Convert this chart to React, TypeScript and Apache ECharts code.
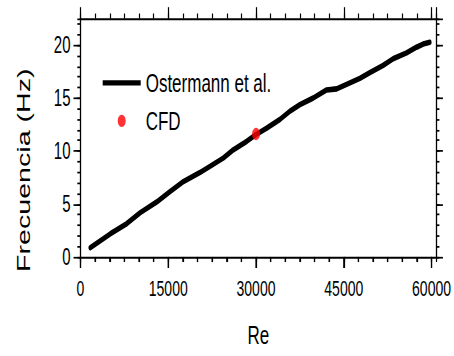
import React, { useEffect, useRef } from "react";
import * as echarts from "echarts";

// Ostermann et al. curve (Re, frequency Hz)
const reValues = [1660, 5070, 7920, 10190, 13040, 15320, 17590, 20440, 22710, 24420, 26120, 28410, 29950, 31830, 34100, 35810, 37510, 39780, 42070, 43780, 45480, 47750, 49460, 51730, 53440, 55730, 57430, 58560, 59710];
const freqValues = [0.87, 2.17, 3.15, 4.17, 5.19, 6.18, 7.11, 7.97, 8.75, 9.34, 10.11, 10.91, 11.53, 12.15, 12.98, 13.76, 14.37, 15.0, 15.76, 15.86, 16.29, 16.85, 17.4, 18.08, 18.7, 19.26, 19.79, 20.09, 20.25];

// CFD point
const cfdRe = [30000];
const cfdFreq = [11.6];

// ticks
const X_MAJOR = 15000;
const X_MINOR = 2500;
const Y_MAJOR = 5;
const Y_MINOR = 1;

const X_MIN = 0;
const X_MAX = 60800;
const Y_MIN = 0;
const Y_MAX = 22.5;

const SCALE_Y = 356 / 230;
const FONT = "Liberation Sans, Arial, Helvetica, sans-serif";

const CHART_W = 454;
const CHART_H = 230;
const GRID_LEFT = 80.5;
const GRID_RIGHT = 17.7;
const GRID_TOP = 11.95;
const GRID_BOTTOM = 60.9;

export default function App() {
  const ref = useRef<HTMLDivElement>(null);

  useEffect(() => {
    if (!ref.current) return;
    const chart = echarts.init(ref.current, undefined, { renderer: "svg" });

    const lineColor = "#000";
    const baseX = (position: "bottom" | "top", interval: number, len: number, labels: boolean, showLine: boolean) => ({
      type: "value",
      position,
      min: X_MIN,
      max: X_MAX,
      interval,
      gridIndex: 0,
      axisLine: { show: showLine, onZero: false, lineStyle: { color: lineColor, width: 1.3 } },
      axisTick: { show: true, inside: false, length: len, lineStyle: { color: lineColor, width: 1.2 } },
      axisLabel: labels
        ? { show: true, showMaxLabel: false, margin: 13, color: "#000", fontSize: 14, fontFamily: FONT, formatter: (v: number) => String(v) }
        : { show: false },
      splitLine: { show: false },
    });
    const baseY = (position: "left" | "right", interval: number, len: number, labels: boolean, showLine: boolean) => ({
      type: "value",
      position,
      min: Y_MIN,
      max: Y_MAX,
      interval,
      gridIndex: 0,
      axisLine: { show: showLine, onZero: false, lineStyle: { color: lineColor, width: 1.3 } },
      axisTick: { show: true, inside: false, length: len, lineStyle: { color: lineColor, width: 1.1 } },
      axisLabel: labels
        ? { show: true, showMaxLabel: false, margin: 10, color: "#000", fontSize: 15, fontFamily: FONT, formatter: (v: number) => String(v) }
        : { show: false },
      splitLine: { show: false },
    });

    const x0: any = baseX("bottom", X_MAJOR, 7.1, true, true);
    x0.name = "Re";
    x0.nameLocation = "middle";
    x0.nameGap = 42;
    x0.nameTextStyle = { color: "#000", fontSize: 17, fontFamily: FONT };

    const y0: any = baseY("left", Y_MAJOR, 7, true, true);
    y0.name = "Frecuencia (Hz)";
    y0.nameLocation = "middle";
    y0.nameGap = 47.5;
    y0.nameTextStyle = { color: "#000", fontSize: 18.5, fontFamily: FONT, padding: [0, 42, 0, 0] };

    const lineData = reValues.map((r, i) => [r, freqValues[i]]);
    const cfdData = cfdRe.map((r, i) => [r, cfdFreq[i]]);

    chart.setOption({
      animation: false,
      backgroundColor: "#fff",
      grid: { left: GRID_LEFT, right: GRID_RIGHT, top: GRID_TOP, bottom: GRID_BOTTOM, containLabel: false },
      legend: {
        orient: "vertical",
        left: 102.7,
        top: 45,
        padding: 0,
        itemWidth: 38,
        itemHeight: 8,
        itemGap: 7.6,
        selectedMode: false,
        data: [
          { name: "Ostermann et al.", icon: "path://M0,0L38,0L38,3.4L0,3.4Z", itemStyle: { color: "#000" } },
          { name: "CFD", icon: "circle" },
        ],
        textStyle: { color: "#000", fontSize: 17, lineHeight: 17, fontFamily: FONT },
      },
      xAxis: [
        x0,
        baseX("bottom", X_MINOR, 3.3, false, false),
        baseX("top", X_MAJOR, 7.3, false, true),
        baseX("top", X_MINOR, 3.2, false, false),
      ],
      yAxis: [
        y0,
        baseY("left", Y_MINOR, 3.2, false, false),
        baseY("right", Y_MAJOR, 6.7, false, true),
        baseY("right", Y_MINOR, 3.2, false, false),
      ],
      series: [
        {
          name: "Ostermann et al.",
          type: "line",
          xAxisIndex: 0,
          yAxisIndex: 0,
          data: lineData,
          showSymbol: false,
          symbol: "none",
          smooth: false,
          lineStyle: { color: "#000", width: 3.6, cap: "round", join: "round" },
          itemStyle: { color: "#000" },
          z: 3,
        },
        {
          name: "CFD",
          type: "scatter",
          xAxisIndex: 0,
          yAxisIndex: 0,
          data: cfdData,
          symbol: "circle",
          symbolSize: 8,
          itemStyle: { color: "#ff0000" },
          z: 4,
        },
      ],
    });

    // bottom axis ticks placed through the series' coordinate system (pointing down)
    const toPixel = (v: number): number[] => {
      let p: any = null;
      try {
        p = chart.convertToPixel({ seriesIndex: 0 } as any, [v, Y_MIN]);
      } catch (e) {
        p = null;
      }
      if (!p || !isFinite(p[0]) || !isFinite(p[1])) {
        const w = CHART_W - GRID_LEFT - GRID_RIGHT;
        p = [GRID_LEFT + ((v - X_MIN) / (X_MAX - X_MIN)) * w, CHART_H - GRID_BOTTOM];
      }
      return p;
    };
    const lines: any[] = [];
    for (let v = X_MIN; v <= X_MAX; v += X_MINOR) {
      const p = toPixel(v);
      const major = v % X_MAJOR === 0;
      lines.push({
        type: "line",
        silent: true,
        z: 100,
        shape: { x1: p[0], y1: p[1], x2: p[0], y2: p[1] + (major ? 7.1 : 3.3) },
        style: { stroke: "#000", lineWidth: 1.2 },
      });
    }
    try {
      chart.setOption({ graphic: { elements: lines } });
    } catch (e) {
      // ignore
    }

    return () => chart.dispose();
  }, []);

  return (
    <div
      style={{
        position: "fixed",
        left: 0,
        top: 0,
        width: 454,
        height: 356,
        overflow: "hidden",
        background: "#fff",
      }}
    >
      <div
        ref={ref}
        style={{
          width: CHART_W,
          height: CHART_H,
          transform: `scaleY(${SCALE_Y})`,
          transformOrigin: "0 0",
        }}
      />
    </div>
  );
}
